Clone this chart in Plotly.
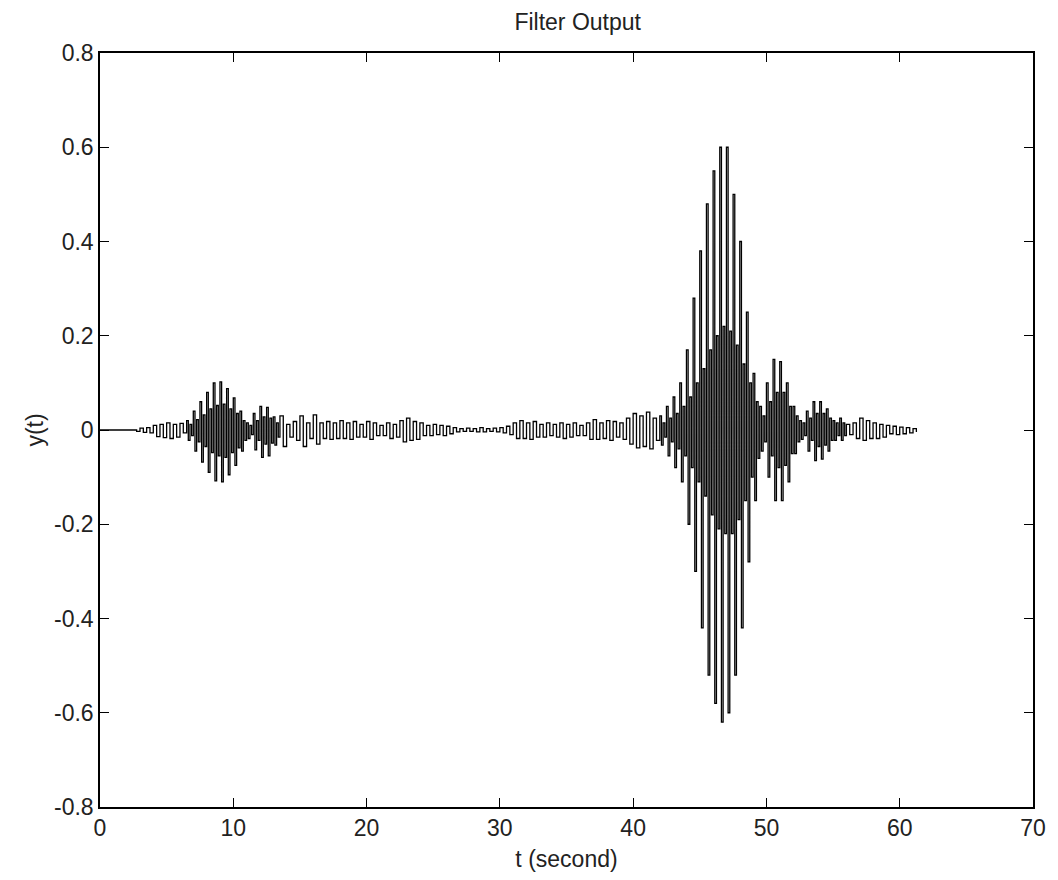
import plotly.graph_objects as go

# y(t) samples in thousandths.
# Each segment: (start time [s], sample spacing [s], values)
seg1_start, seg1_dt = 0.0, 0.25
seg1_vals = [0, 0, 0, 0, 0, 0, 0, 0, 0, 0, 0,
             -3, 4, -5, 5, -6, 10, -14, 12, -16, 15, -18, 12, -15, 14, -6]

seg2_start, seg2_dt = 6.5, 0.125
seg2_vals = [20, -22, 12, -12, 40, -45, 22, -25, 60, -68, 32, -35,
             80, -90, 45, -48, 100, -108, 52, -55, 102, -110, 55, -58,
             88, -95, 45, -48, 68, -75, 35, -38, 40, -45, 20, -22,
             15, -18, 10, -10, 35, -42, 20, -22, 50, -58, 28, -30,
             48, -55, 25, -28, 28, -32, 15, -15]

seg3_start, seg3_dt = 13.5, 0.25
seg3_vals = [30, -35, 12, -15, 18, -22, 30, -35, 15, -18, 32, -30, 15, -18,
             18, -20, 15, -18, 20, -18, 15, -20, 18, -15, 12, -15, 18, -20,
             15, -12, 10, -12, 15, -18, 12, -15, 20, -25, 25, -22, 18, -20,
             15, -12, 10, -12, 12, -10, 10, -12, 8, -8, 5, -4, 3, -3, 4, -3,
             3, -4, 5, -4, 3, -3, 4, -4, 5, -6, 8, -10,
             15, -18, 20, -18, 15, -20, 18, -15, 12, -15, 15, -12, 12, -15,
             15, -18, 12, -15, 15, -12, 10, -12, 15, -20, 22, -20, 15, -18,
             20, -22, 18, -15, 15, -20, 25, -30, 35, -38, 30, -35, 38, -40,
             25, -22]

seg4_start, seg4_dt = 42.0, 0.125
seg4_vals = [30, -32, 15, -15, 50, -55, 25, -25, 70, -80, 35, -40,
             100, -110, 50, -55, 170, -200, 70, -80, 280, -300, 100, -110,
             380, -420, 130, -140, 480, -520, 170, -180, 550, -580, 200, -210,
             600, -620, 220, -220, 600, -600, 210, -220, 500, -520, 180, -190,
             400, -420, 140, -150, 250, -280, 100, -100, 120, -150, 60, -60,
             50, -45, 30, -25, 100, -100, 60, -55, 150, -150, 80, -80,
             145, -150, 80, -75, 100, -110, 50, -50, 50, -50, 30, -25,
             20, -20, 15, -12, 40, -45, 25, -22, 60, -65, 35, -35,
             60, -62, 35, -32, 45, -45, 25, -22, 20, -22, 15, -12,
             25, -22, 15, -12]

seg5_start, seg5_dt = 56.0, 0.25
seg5_vals = [12, -10, 15, -18, 25, -22, 20, -18, 15, -18, 12, -15,
             10, -8, 8, -10, 6, -8, 5, -6, 3, -4]

segments = [(seg1_start, seg1_dt, seg1_vals), (seg2_start, seg2_dt, seg2_vals),
            (seg3_start, seg3_dt, seg3_vals), (seg4_start, seg4_dt, seg4_vals),
            (seg5_start, seg5_dt, seg5_vals)]

t, y = [], []
for start, step, vals in segments:
    for i, v in enumerate(vals):
        t.append(start + i * step)
        y.append(v / 1000)

x_ticks = [0, 10, 20, 30, 40, 50, 60, 70]
y_ticks = [-0.8, -0.6, -0.4, -0.2, 0, 0.2, 0.4, 0.6, 0.8]
y_tick_text = ["-0.8", "-0.6", "-0.4", "-0.2", "0", "0.2", "0.4", "0.6", "0.8"]

FONT = "Liberation Sans, Arial, Helvetica, sans-serif"

fig = go.Figure()
fig.add_trace(go.Scatter(
    x=t, y=y, mode="lines",
    line=dict(color="black", width=1.3, shape="hv"),
    showlegend=False, hoverinfo="skip",
))

axis_common = dict(
    showgrid=False, zeroline=False, showline=True, linecolor="black",
    linewidth=1.5, mirror="allticks", ticks="inside", ticklen=9,
    tickcolor="black", tickwidth=1.2,
    tickfont=dict(family=FONT, size=23, color="#222"),
)

fig.update_layout(
    width=1058, height=880,
    margin=dict(l=100, r=21, t=53, b=72),
    paper_bgcolor="white", plot_bgcolor="white",
    title=dict(text="Filter Output", x=0.546, xanchor="center", y=0.975,
               yanchor="middle", font=dict(family=FONT, size=23, color="#222")),
    xaxis=dict(range=[0, 70], tickvals=x_ticks,
               title=dict(text="t (second)", standoff=11,
                          font=dict(family=FONT, size=23, color="#222")),
               **axis_common),
    yaxis=dict(range=[-0.8, 0.8], tickvals=y_ticks, ticktext=y_tick_text,
               title=dict(text="y(t)", standoff=4,
                          font=dict(family=FONT, size=23, color="#222")),
               **axis_common),
)

fig.write_html("out.html")
